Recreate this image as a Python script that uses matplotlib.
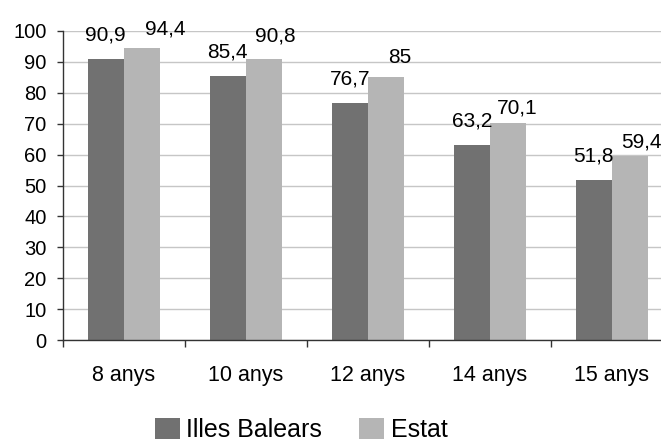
import numpy as np
import matplotlib.pyplot as plt

plt.rcParams['font.family'] = ['Liberation Sans', 'DejaVu Sans']

# dades: percentatge per edat
edats = ['8 anys', '10 anys', '12 anys', '14 anys', '15 anys']
balears = [90.9, 85.4, 76.7, 63.2, 51.8]
estat = [94.4, 90.8, 85.0, 70.1, 59.4]

# desplaçament de les etiquetes (píxels)
dx_estat = [24, 12, 14, 9, 12]
dy_estat = [19, 23, 20, 15, 14]
dy_balears = 24

fig = plt.figure(figsize=(6.61, 4.42), dpi=100)
ax = fig.add_axes([62.7 / 661, 102 / 442, 610 / 661, 309 / 442])

x = np.arange(len(edats))
w = 0.295
b1 = ax.bar(x - w / 2, balears, w, color='#717171', label='Illes Balears', zorder=2)
b2 = ax.bar(x + w / 2, estat, w, color='#b5b5b5', label='Estat', zorder=2)

def fmt(v):
    s = ('%.1f' % v).rstrip('0').rstrip('.')
    return s.replace('.', ',')

for i, v in enumerate(balears):
    ax.annotate(fmt(v), (x[i] - w / 2, v), xytext=(0, dy_balears),
                textcoords='offset pixels', ha='center', va='center', fontsize=15)
for i, v in enumerate(estat):
    ax.annotate(fmt(v), (x[i] + w / 2, v), xytext=(dx_estat[i], dy_estat[i]),
                textcoords='offset pixels', ha='center', va='center', fontsize=15)

ax.set_xlim(-0.5, len(edats) - 0.5)
ax.set_ylim(0, 100)
ax.set_yticks(range(0, 101, 10))
ax.yaxis.grid(True, color='#c6c6c6', linewidth=1, zorder=0)
ax.set_axisbelow(True)

ax.set_xticks(x)
ax.set_xticklabels(edats, fontsize=15.5)
ax.set_xticks(np.arange(-0.5, len(edats)), minor=True)
ax.tick_params(axis='x', which='major', length=0, pad=18)
ax.tick_params(axis='x', which='minor', length=5, width=1, direction='out', color='#333333')
ax.tick_params(axis='y', length=4.5, width=1, labelsize=14.5, pad=7, color='#333333')

for s in ['top', 'right']:
    ax.spines[s].set_visible(False)
for s in ['left', 'bottom']:
    ax.spines[s].set_linewidth(1)
    ax.spines[s].set_color('#333333')

fig.legend(handles=[b1, b2], loc='center', bbox_to_anchor=(301 / 661, 1 - 430 / 442),
           ncol=2, frameon=False, fontsize=18, handlelength=1.0, handleheight=0.9,
           handletextpad=0.25, columnspacing=1.5)

fig.savefig('out.png', dpi=100)
